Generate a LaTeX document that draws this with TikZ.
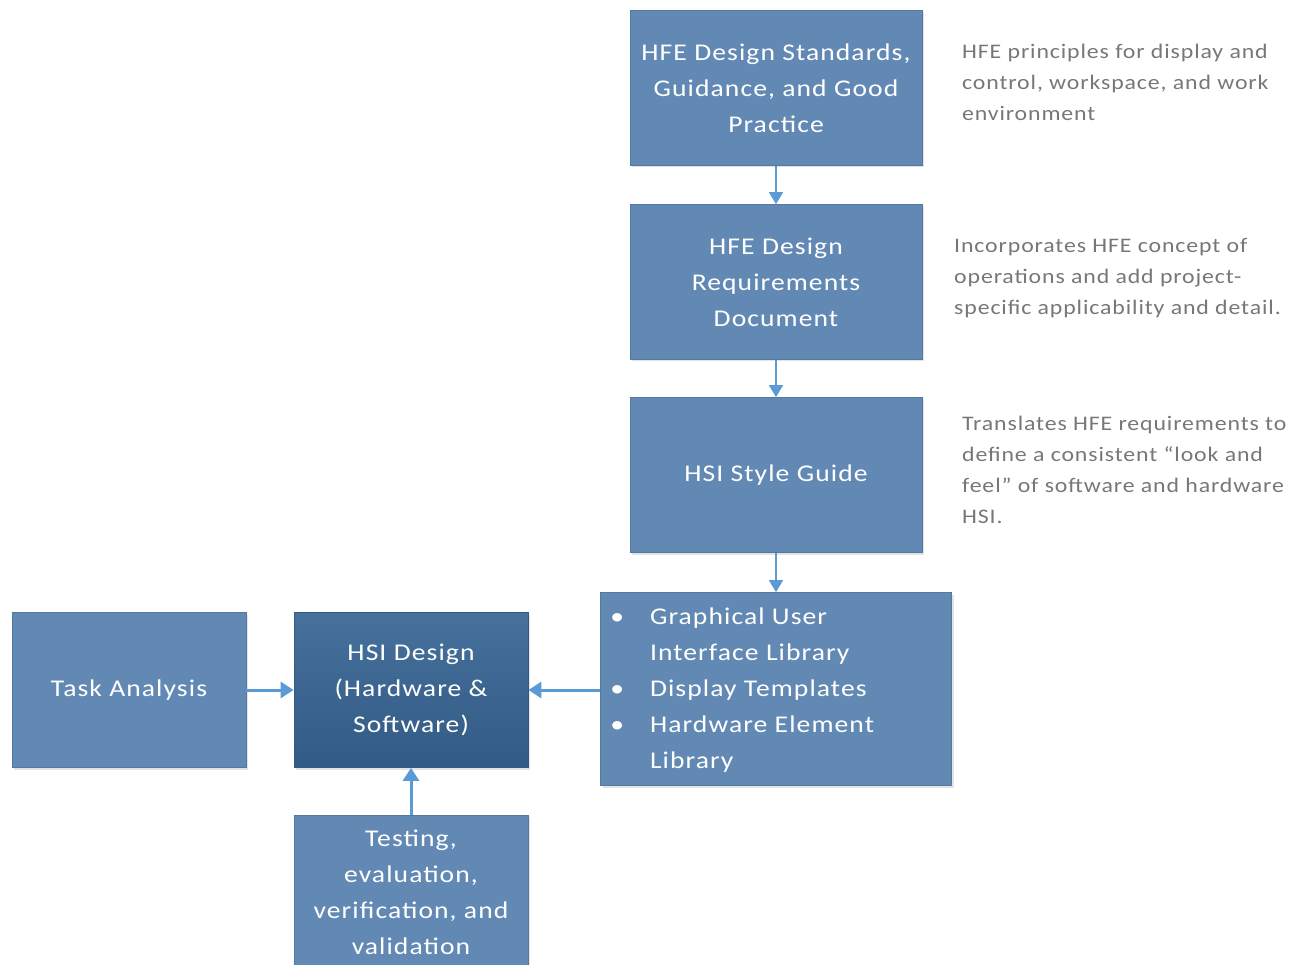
\documentclass[tikz,border=0pt]{standalone}
\usepackage{fontspec}
\setmainfont{Carlito}
\newfontfamily\boxfont[FakeStretch=1.15,LetterSpace=4.5]{Carlito}
\newfontfamily\sidefont[FakeStretch=1.15,LetterSpace=4.3]{Carlito}
\usetikzlibrary{arrows.meta,shadows}
\definecolor{boxfill}{HTML}{6289B4}
\definecolor{boxedge}{HTML}{5379A3}
\definecolor{darktop}{HTML}{46719C}
\definecolor{darkbot}{HTML}{325B85}
\definecolor{arrowc}{HTML}{5B9BD5}
\definecolor{sidegray}{HTML}{777777}
\tikzset{
  stepbox/.style={draw=boxedge, line width=0.8pt, fill=boxfill, text=white,
    align=center, inner sep=0pt,
    font=\boxfont\fontsize{24}{36}\selectfont,
    drop shadow={opacity=0.22, shadow xshift=2pt, shadow yshift=-2pt}},
  darkbox/.style={stepbox, draw=darkbot, top color=darktop, bottom color=darkbot},
  sidetext/.style={text=sidegray, align=left, anchor=north west, inner sep=0pt,
    font=\sidefont\fontsize{20.7}{31}\selectfont},
  boxtext/.style={text=white, align=center, inner sep=0pt,
    font=\boxfont\fontsize{24}{36}\selectfont},
  thinarrow/.style={draw=arrowc, line width=1.8pt, -{Triangle[width=14pt,length=12pt]}},
  thickarrow/.style={draw=arrowc, line width=3pt, -{Triangle[width=16pt,length=13pt]}}
}
\begin{document}
\begin{tikzpicture}[x=1pt,y=-1pt]
\useasboundingbox (0,0) rectangle (1304,965);
\clip (0,0) rectangle (1304,965);

\node[stepbox, minimum width=292pt, minimum height=155pt] (b1) at (776,88)
  {HFE Design Standards,\\Guidance, and Good\\Practice};
\node[stepbox, minimum width=292pt, minimum height=155pt] (b2) at (776,282)
  {HFE Design\\Requirements\\Document};
\node[stepbox, minimum width=292pt, minimum height=155pt] (b3) at (776,475)
  {HSI Style Guide};
\node[stepbox, minimum width=351pt, minimum height=193pt] (b4) at (776,689) {};
\node[boxtext, anchor=west, align=left] (b4t) at ([xshift=10pt]b4.west)
  {\begin{tabular}{@{}l@{\hspace{26pt}}l@{}}
   • & Graphical User\\
     & Interface Library\\
   • & Display Templates\\
   • & Hardware Element\\
     & Library
   \end{tabular}};
\node[stepbox, minimum width=234pt, minimum height=155pt] (ta) at (129,690)
  {Task Analysis};
\node[darkbox, minimum width=234pt, minimum height=155pt] (hsi) at (411,690)
  {HSI Design\\(Hardware \&\\Software)};
\node[stepbox, minimum width=234pt, minimum height=170pt, anchor=north] (tv) at (411,815) {};
\node[boxtext] (tvt) at (411,892) {Testing,\\evaluation,\\verification, and\\validation};

\node[sidetext] (s1) at (962,44) {HFE principles for display and\\control, workspace, and work\\environment};
\node[sidetext] (s2) at (954,238) {Incorporates HFE concept of\\operations and add project-\\specific applicability and detail.};
\node[sidetext] (s3) at (962,416) {Translates HFE requirements to\\define a consistent “look and\\feel” of software and hardware\\HSI.};

\draw[thinarrow] (b1.south) -- (b2.north);
\draw[thinarrow] (b2.south) -- (b3.north);
\draw[thinarrow] (b3.south) -- (b4.north);
\draw[thickarrow] (ta.east) -- (hsi.west);
\draw[thickarrow] (b4.west |- hsi.east) -- (hsi.east);
\draw[thickarrow] (tv.north) -- (hsi.south);
\end{tikzpicture}
\end{document}
